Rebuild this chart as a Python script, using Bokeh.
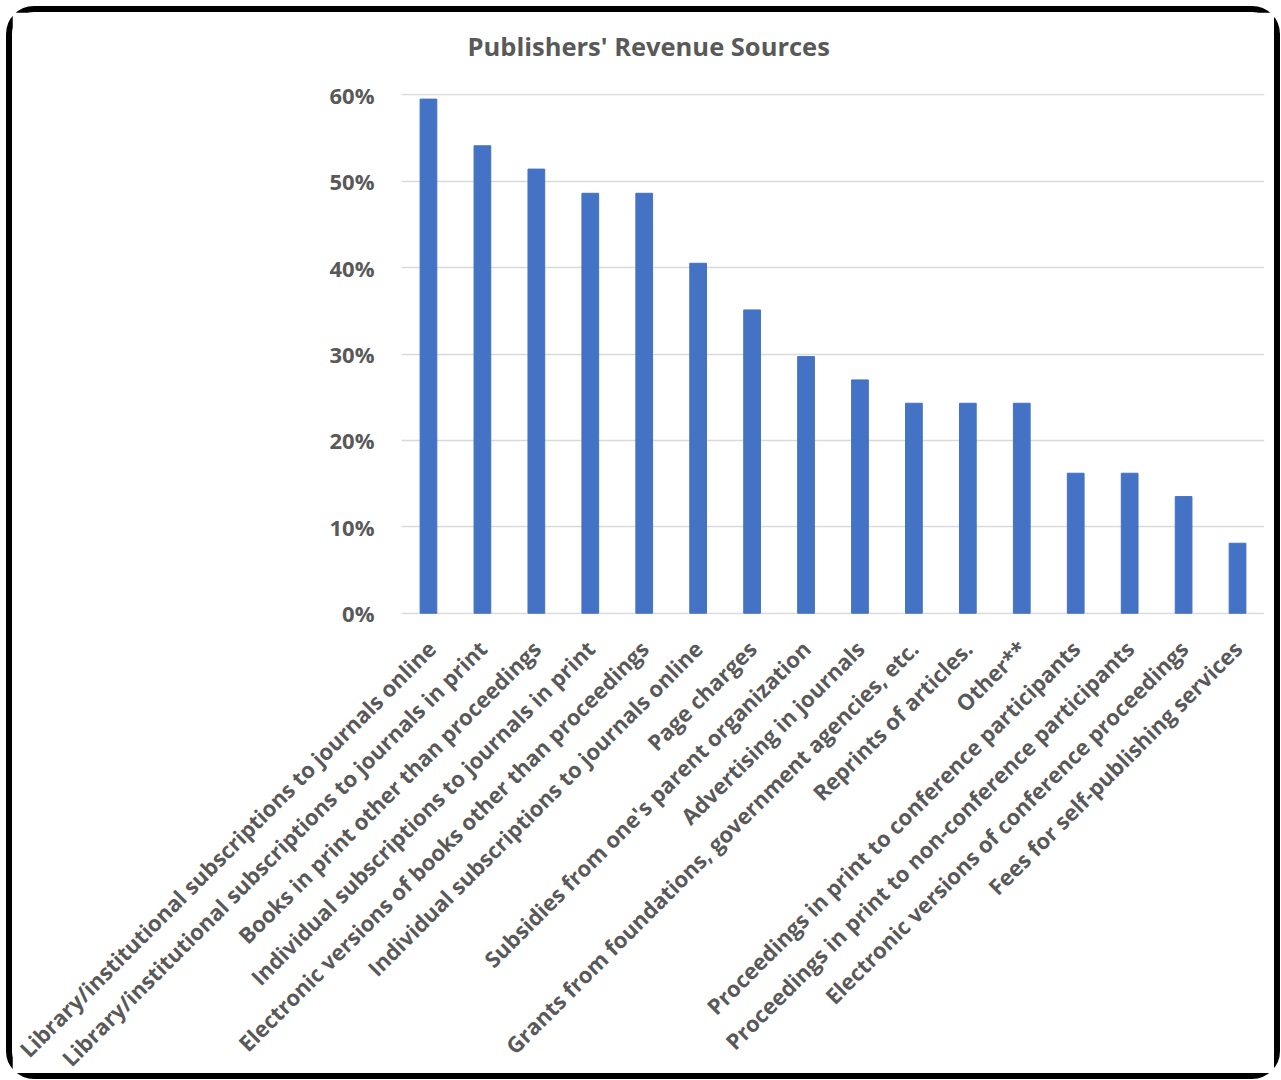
import math
from bokeh.plotting import figure
from bokeh.models import NumeralTickFormatter, FixedTicker, Range1d, Title
from bokeh.embed import file_html
from bokeh.resources import INLINE

categories = [
    "Library/institutional subscriptions to journals online",
    "Library/institutional subscriptions to journals in print",
    "Books in print other than proceedings",
    "Individual subscriptions to journals in print",
    "Electronic versions of books other than proceedings",
    "Individual subscriptions to journals online",
    "Page charges",
    "Subsidies from one's parent organization",
    "Advertising in journals",
    "Grants from foundations, government agencies, etc.",
    "Reprints of articles.",
    "Other**",
    "Proceedings in print to conference participants",
    "Proceedings in print to non-conference participants",
    "Electronic versions of conference proceedings",
    "Fees for self-publishing services",
]
shares = [0.595, 0.541, 0.514, 0.486, 0.486, 0.405, 0.351, 0.297, 0.270,
          0.243, 0.243, 0.243, 0.162, 0.162, 0.135, 0.081]
y_ticks = [0.0, 0.1, 0.2, 0.3, 0.4, 0.5, 0.6]
title_text = "Publishers' Revenue Sources"

FONT = "Open Sans"
GRAY = "#595959"
W, H = 1262, 1061

p = figure(x_range=categories, y_range=Range1d(-0.0015, 0.6015),
           width=W, height=H, output_backend="svg",
           toolbar_location=None, tools="",
           min_border_left=389, min_border_right=22,
           min_border_top=81, min_border_bottom=471)

p.vbar(x=categories, top=shares, width=0.31, color="#4472C4")

spacer = Title(text=" ", text_font_size="11px", standoff=7)
p.add_layout(spacer, "above")
t = Title(text=title_text, align="left", offset=66,
          text_font=FONT, text_font_size="25.5px", text_font_style="bold",
          text_color=GRAY, standoff=20)
p.add_layout(t, "above")

p.outline_line_color = None
p.background_fill_color = "white"
p.border_fill_color = "white"
p.xgrid.grid_line_color = None
p.ygrid.grid_line_color = "#d9d9d9"
p.ygrid.grid_line_width = 1.5

p.yaxis.ticker = FixedTicker(ticks=y_ticks)
p.yaxis.formatter = NumeralTickFormatter(format="0%")
for ax in (p.xaxis[0], p.yaxis[0]):
    ax.axis_line_color = None
    ax.major_tick_line_color = None
    ax.minor_tick_line_color = None
    ax.major_label_text_font = FONT
    ax.major_label_text_font_style = "bold"
    ax.major_label_text_color = GRAY

p.yaxis.major_label_text_font_size = "22px"
p.yaxis.major_label_standoff = 21
p.xaxis.major_label_text_font_size = "22px"
p.xaxis.major_label_orientation = math.pi / 4
p.xaxis.major_label_standoff = 24

p.styles = {"border": "6px solid black", "border-radius": "28px",
            "box-sizing": "content-box",
            "margin-left": "6px", "margin-top": "6px"}

open("out.html", "w").write(file_html(p, INLINE))
